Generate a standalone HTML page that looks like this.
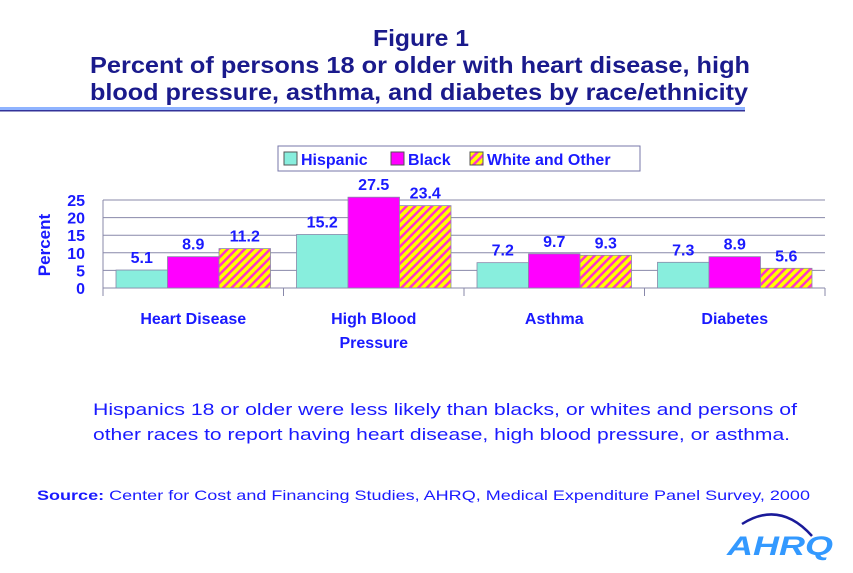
<!DOCTYPE html>
<html><head><meta charset="utf-8"><style>
body{margin:0;background:#fff;width:853px;height:568px;overflow:hidden;font-family:"Liberation Sans",Arial,sans-serif}
</style></head><body>
<svg width="853" height="568" xmlns="http://www.w3.org/2000/svg">
<defs>
<pattern id="hatch" patternUnits="userSpaceOnUse" width="6" height="6" patternTransform="rotate(45)">
<rect width="6" height="6" fill="#ffff00"/><rect width="2.5" height="6" fill="#ff33cc"/>
</pattern>
</defs>
<g font-family="'Liberation Sans',sans-serif" font-weight="bold" fill="#1a1a8c" lengthAdjust="spacingAndGlyphs">
<text x="373" y="46" font-size="23" textLength="96" lengthAdjust="spacingAndGlyphs">Figure 1</text>
<text x="90" y="73" font-size="23" textLength="660" lengthAdjust="spacingAndGlyphs">Percent of persons 18 or older with heart disease, high</text>
<text x="90" y="100" font-size="23" textLength="658" lengthAdjust="spacingAndGlyphs">blood pressure, asthma, and diabetes by race/ethnicity</text>
</g>
<rect x="0" y="107" width="745" height="3" fill="#8fb3ff"/>
<rect x="0" y="110" width="745" height="1.5" fill="#333399"/>
<g font-weight="bold" font-size="16" fill="#1a1aff">
<rect x="278" y="146" width="362" height="25" fill="#fff" stroke="#7777aa"/>
<rect x="284" y="152" width="13" height="13" fill="#88eedd" stroke="#555"/><text x="301" y="165">Hispanic</text>
<rect x="391" y="152" width="13" height="13" fill="#ff00ff" stroke="#555"/><text x="408" y="165">Black</text>
<rect x="470" y="152" width="13" height="13" fill="url(#hatch)" stroke="#555"/><text x="487" y="165">White and Other</text>
</g>
<g id="chart"></g>
<text x="93" y="415" font-size="17" fill="#1a1aff" textLength="704" lengthAdjust="spacingAndGlyphs">Hispanics 18 or older were less likely than blacks, or whites and persons of</text>
<text x="93" y="440" font-size="17" fill="#1a1aff" textLength="697" lengthAdjust="spacingAndGlyphs">other races to report having heart disease, high blood pressure, or asthma.</text>
<text x="37" y="500" font-size="14" fill="#1a1aff" textLength="773" lengthAdjust="spacingAndGlyphs"><tspan font-weight="bold">Source:</tspan> Center for Cost and Financing Studies, AHRQ, Medical Expenditure Panel Survey, 2000</text>
<g>
<path d="M742 524 Q780 500 812 536" fill="none" stroke="#1a1a99" stroke-width="2.5"/>
<text x="727" y="555" font-size="27" font-weight="bold" font-style="italic" fill="#3399ff" textLength="106" lengthAdjust="spacingAndGlyphs">AHRQ</text>
</g>
</svg>
<script>
const categories=[["Heart Disease"],["High Blood","Pressure"],["Asthma"],["Diabetes"]];
const hispanic=[5.1,15.2,7.2,7.3];
const black=[8.9,27.5,9.7,8.9];
const white=[11.2,23.4,9.3,5.6];
const yTicks=[0,5,10,15,20,25];
const NS="http://www.w3.org/2000/svg";
const g=document.getElementById('chart');
const x0=103,x1=825,y0=288,yTop=200,yMax=25;
const y=v=>y0-(Math.min(v,25.8))/yMax*(y0-yTop);
const gw=(x1-x0)/categories.length;
function el(t,a){const e=document.createElementNS(NS,t);for(const k in a)e.setAttribute(k,a[k]);g.appendChild(e);return e;}
yTicks.forEach(t=>{
 const l=el('line',{x1:x0,x2:x1,y1:y(t),y2:y(t),stroke:'#8888aa','stroke-width':1});
 
 
 const tx=el('text',{x:x0-18,y:y(t)+6,'text-anchor':'end','font-size':16,'font-weight':'bold',fill:'#1a1aff'});
 tx.textContent=t;
 
 
});
el('line',{x1:x0,x2:x0,y1:yTop,y2:296,stroke:'#8888aa'});
for(let i=0;i<=categories.length;i++)el('line',{x1:x0+i*gw,x2:x0+i*gw,y1:y0,y2:296,stroke:'#8888aa'});
const yt=el('text',{x:50,y:245,'text-anchor':'middle','font-size':17,'font-weight':'bold',fill:'#1a1aff',transform:'rotate(-90 50 245)'});
yt.textContent='Percent';


const series=[[hispanic,'#88eedd','hispanic'],[black,'#ff00ff','black'],[white,'url(#hatch)','white-other']];
const bw=51.5;
categories.forEach((c,i)=>{
 const gx=x0+i*gw+13;
 series.forEach((s,j)=>{
  const v=s[0][i];const bx=gx+j*bw;
  const r=el('rect',{x:bx,y:y(v),width:bw,height:y0-y(v),fill:s[1],stroke:'#8888aa','stroke-width':0.8});
  
  
  const t=el('text',{x:bx+bw/2,y:y(v)-7,'text-anchor':'middle','font-size':16,'font-weight':'bold',fill:'#1a1aff'});
  t.textContent=v;
  
  
 });
 c.forEach((line,k)=>{
  const t=el('text',{x:x0+i*gw+gw/2,y:324+k*24,'text-anchor':'middle','font-size':16,'font-weight':'bold',fill:'#1a1aff'});
  t.textContent=line;
  
  
 });
});
</script>
</body></html>
